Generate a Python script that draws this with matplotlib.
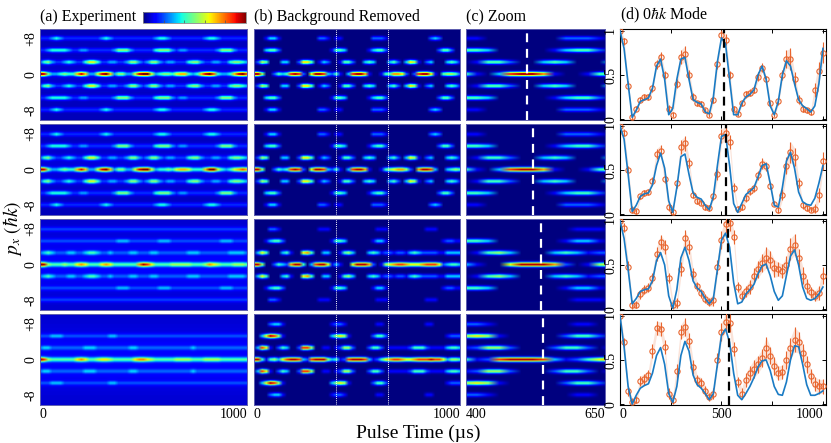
import numpy as np
import matplotlib
matplotlib.use('Agg')
import matplotlib.pyplot as plt
from matplotlib.cm import ScalarMappable
from matplotlib.colors import Normalize

plt.rcParams['font.family'] = ['Liberation Serif', 'DejaVu Serif']
plt.rcParams['mathtext.fontset'] = 'stix'

# ---------------- data ----------------
pulse_time = np.arange(0, 1001, 20)          # us, sample grid

# heatmap intensities (digits 0-9 = relative density), orders 0, ±1, ±2, ±3
exp_row1 = ["98422 34336 86225 89624 42258 99523 44356 63236 89732 23689 7",
            "13421 12321 13553 11221 12442 12442 12211 13442 11221 13443 2",
            "11233 33211 22111 11124 44211 11134 44212 21111 11124 44211 1",
            "11123 21111 11111 23211 11111 11123 32111 11111 23321 11111 1"]
exp_row2 = ["98422 34336 86225 89624 42258 99523 34356 65333 69953 23567 6",
            "13421 12321 13553 11221 12442 12442 12211 13442 11221 13443 2",
            "11233 33211 22111 11124 44211 11134 44212 21111 11124 44211 1",
            "11123 21111 11111 23211 11111 11123 32111 11111 23321 11111 1"]
exp_row3 = ["98433 34335 65333 56533 33336 87533 33444 44333 46543 33444 3",
            "12321 11221 12332 11211 11221 11221 11111 12221 11111 12222 1",
            "11111 11111 11111 11112 22111 11112 22111 11111 11112 22111 1",
            "11111 11111 11111 11111 11111 11111 11111 11111 11111 11111 1"]
exp_row4 = ["97433 33335 65334 55433 33356 65433 33344 44333 44443 33333 3",
            "12211 11111 12221 11111 11221 11111 11111 11211 11111 11111 1",
            "11122 21111 11111 11221 11111 11111 11111 11111 11111 11111 1",
            "00000 00000 00000 00000 00000 00000 00000 00000 00000 00000 0"]

bgr_row1 = ["99500 24348 98206 99832 41038 99710 01447 76202 89961 04554 2",
            "02540 00330 02664 01320 01442 00343 00034 20365 10230 00343 1",
            "00034 42000 00000 00001 44300 00013 44200 00000 00000 24420 0",
            "00013 31000 00000 02210 11000 00002 22100 00000 00023 20000 0"]
bgr_row2 = ["99500 24348 98206 99832 41038 99710 01456 77520 79983 00345 4",
            "02540 00330 02664 01320 01442 00343 00034 20365 10230 00343 1",
            "00034 42000 00000 00001 44300 00013 44200 00000 00000 24420 0",
            "00013 31000 00000 02210 11000 00002 22100 00000 00023 20000 0"]
bgr_row3 = ["99500 24327 99403 89961 31006 99972 01567 88766 67888 62344 3",
            "03640 00341 00674 00330 01453 00034 31221 22134 32222 11333 3",
            "00013 44200 00000 00001 44300 00001 33100 00000 00000 01221 1",
            "00002 21000 00000 01110 00000 00000 11100 00000 00111 00000 0"]
bgr_row4 = ["99414 53689 98328 99953 41289 99831 24678 87667 88898 86355 4",
            "03861 02430 02885 00110 12552 00024 42011 11124 44211 11344 3",
            "00369 85100 00000 00003 56510 00002 44200 00000 00000 00122 2",
            "00002 33100 00000 00001 22100 00000 11000 00000 00110 00000 0"]

exp_rows = [exp_row1, exp_row2, exp_row3, exp_row4]
bgr_rows = [bgr_row1, bgr_row2, bgr_row3, bgr_row4]
exp_background = [0.05, 0.05, 0.07, 0.07]
exp_cloud = [0.02, 0.03, 0.05, 0.06]

# 0 hbar k mode population: model curves
model1 = [1.00,0.80,0.40,0.02,0.10,0.20,0.22,0.24,0.35,0.60,
          0.68,0.45,0.05,0.12,0.45,0.68,0.70,0.45,0.22,0.19,
          0.17,0.08,0.06,0.25,0.65,0.92,0.85,0.45,0.05,0.05,
          0.18,0.25,0.28,0.33,0.50,0.60,0.45,0.15,0.05,0.20,
          0.50,0.66,0.60,0.40,0.22,0.15,0.12,0.08,0.15,0.40,0.80]
model2 = [1.00,0.85,0.45,0.03,0.10,0.20,0.23,0.24,0.33,0.55,
          0.69,0.52,0.15,0.02,0.30,0.65,0.68,0.45,0.24,0.19,
          0.17,0.10,0.05,0.20,0.55,0.88,0.90,0.55,0.12,0.02,
          0.12,0.22,0.26,0.30,0.42,0.55,0.57,0.35,0.10,0.08,
          0.30,0.60,0.70,0.52,0.25,0.14,0.11,0.10,0.18,0.35,0.55]
model3 = [1.00,0.80,0.45,0.06,0.12,0.20,0.22,0.23,0.32,0.55,
          0.64,0.50,0.15,0.01,0.22,0.58,0.70,0.55,0.32,0.24,
          0.20,0.12,0.06,0.12,0.45,0.78,0.86,0.70,0.30,0.06,
          0.08,0.17,0.22,0.28,0.40,0.49,0.51,0.38,0.20,0.10,
          0.15,0.38,0.60,0.67,0.50,0.25,0.12,0.10,0.12,0.17,0.25]
model4 = [1.00,0.65,0.20,0.00,0.10,0.18,0.21,0.23,0.35,0.55,
          0.64,0.45,0.12,0.02,0.20,0.55,0.71,0.60,0.33,0.22,
          0.18,0.12,0.05,0.12,0.45,0.78,0.85,0.70,0.35,0.10,
          0.05,0.12,0.20,0.30,0.42,0.49,0.50,0.38,0.20,0.11,
          0.10,0.25,0.50,0.66,0.65,0.45,0.22,0.10,0.10,0.12,0.15]

# measured populations
meas1 = [1.00,0.88,0.38,0.02,0.12,0.22,0.25,0.25,0.35,0.62,
         0.70,0.50,0.12,0.05,0.40,0.70,0.74,0.50,0.25,0.18,
         0.17,0.10,0.05,0.22,0.62,0.95,0.90,0.50,0.12,0.06,
         0.18,0.28,0.30,0.33,0.48,0.58,0.45,0.18,0.05,0.20,
         0.50,0.68,0.68,0.45,0.22,0.12,0.10,0.08,0.33,0.55,0.75]
meas2 = [1.00,0.92,0.50,0.05,0.03,0.20,0.24,0.25,0.38,0.68,
         0.72,0.40,0.08,0.02,0.35,0.76,0.80,0.58,0.22,0.15,
         0.13,0.08,0.07,0.20,0.45,0.88,0.92,0.82,0.30,0.06,
         0.08,0.18,0.26,0.29,0.44,0.57,0.54,0.32,0.12,0.05,
         0.22,0.55,0.70,0.65,0.35,0.10,0.07,0.05,0.06,0.22,0.60]
meas3 = [1.00,0.92,0.48,0.05,0.05,0.17,0.22,0.24,0.35,0.62,
         0.76,0.70,0.35,0.05,0.07,0.45,0.80,0.70,0.40,0.26,
         0.18,0.12,0.08,0.10,0.48,0.78,0.96,0.98,0.82,0.25,
         0.15,0.20,0.25,0.38,0.45,0.52,0.58,0.56,0.46,0.45,
         0.43,0.50,0.68,0.73,0.58,0.38,0.26,0.19,0.15,0.18,0.38]
meas4 = [1.00,0.70,0.15,0.02,0.05,0.26,0.28,0.33,0.60,0.86,
         0.85,0.65,0.12,0.05,0.37,0.82,0.87,0.72,0.42,0.27,
         0.24,0.15,0.08,0.12,0.50,0.82,0.93,0.92,0.62,0.25,
         0.12,0.27,0.35,0.40,0.45,0.52,0.64,0.55,0.43,0.35,
         0.36,0.50,0.63,0.73,0.70,0.58,0.45,0.32,0.23,0.20,0.20]

# error bars (hundredths)
err1 = [3,4,5,4,3,3,3,3,4,5, 6,5,4,3,5,8,9,6,4,3, 3,3,3,4,5,6,6,5,3,3,
        3,4,4,4,5,5,4,3,3,4, 6,10,12,8,5,4,3,3,8,10, 12]
err2 = [3,4,5,4,3,3,3,3,4,6, 6,5,4,3,5,8,8,6,4,3, 3,3,3,4,6,8,8,8,5,3,
        3,4,4,4,5,6,5,4,3,4, 6,10,12,10,6,4,3,3,5,8, 10]
err3 = [4,5,6,5,4,5,5,5,6,8, 8,8,6,5,6,8,10,8,6,5, 5,5,5,6,8,10,10,10,8,6,
        6,6,8,8,10,10,12,10,10,8, 8,10,12,12,10,10,8,6,6,8, 10]
err4 = [4,5,6,5,4,6,6,6,8,8, 8,8,6,5,8,8,10,8,8,6, 6,6,5,6,8,10,10,10,8,6,
        6,8,8,10,10,10,12,10,10,8, 8,10,12,14,12,10,10,8,8,8, 8]

models = [model1, model2, model3, model4]
measured = [meas1, meas2, meas3, meas4]
errors = [err1, err2, err3, err4]
pi_time = [510, 521, 534, 538]       # dashed marker per row
zoom_range = [400, 650]

titles = ['(a) Experiment', '(b) Background Removed', '(c) Zoom',
          r'(d) 0$\hbar k$ Mode']

# ---------------- helpers ----------------
N = len(pulse_time)


def fit_len(v):
    v = np.asarray(v, float)
    if len(v) < N:
        v = np.concatenate([v, np.full(N - len(v), v[-1])])
    return v[:N]


def parse(s):
    return fit_len([int(ch) for ch in s if ch.isdigit()]) / 9.0


YLIM = 10.2
yy = np.linspace(-YLIM, YLIM, 92)
SPACING = 8.0 / 3.0
SIG = 0.34


def build(strings, bg=0.0, cloud=0.0):
    img = np.full((len(yy), N), bg)
    for k in range(-3, 4):
        row = parse(strings[abs(k)])
        prof = np.exp(-0.5 * ((yy - k * SPACING) / SIG) ** 2)
        img += prof[:, None] * row[None, :]
    img += cloud * np.exp(-0.5 * (yy / 4.0) ** 2)[:, None]
    return np.clip(img, 0, 1)


W, H = 831, 443
fig = plt.figure(figsize=(W / 100, H / 100), dpi=100)


def ax_at(x0, x1, y0, y1):
    return fig.add_axes([x0 / W, 1 - y1 / H, (x1 - x0) / W, (y1 - y0) / H])


cols = [(40, 247), (254, 460), (466, 605), (620, 826)]
rows = [(29, 120), (124, 215), (219, 310), (314, 405)]
ORANGE = '#E8652E'
BLUE = '#1A7BC4'
SPINE = '#6060b0'
dt = pulse_time[1] - pulse_time[0]
extent = [pulse_time[0] - dt / 2, pulse_time[-1] + dt / 2, -YLIM, YLIM]

for r in range(4):
    img_a = build(exp_rows[r], exp_background[r], exp_cloud[r])
    img_b = build(bgr_rows[r])
    for c, img in enumerate([img_a, img_b, img_b]):
        ax = ax_at(*cols[c], *rows[r])
        ax.imshow(img, extent=extent, origin='lower', aspect='auto', cmap='jet',
                  vmin=0, vmax=1, interpolation='bilinear')
        ax.set_ylim(-YLIM, YLIM)
        if c < 2:
            ax.set_xlim(0, 1000)
            xt = [0, 1000]
        else:
            ax.set_xlim(*zoom_range)
            xt = list(zoom_range)
        for s in ax.spines.values():
            s.set_color(SPINE)
            s.set_linewidth(0.7)
        ax.tick_params(length=0, labelsize=10, pad=2)
        if c == 1:
            for z in zoom_range:
                ax.axvline(z, color='white', lw=0.7, ls=(0, (1, 1.2)))
        if c == 2:
            ax.axvline(pi_time[r], color='white', lw=1.6, ls=(0, (4, 3)))
        if c == 0:
            ax.set_yticks([8, 0, -8])
            ax.set_yticklabels(['+8', '0', '-8'], rotation=90, va='center')
        else:
            ax.set_yticks([])
        if r == 3:
            ax.set_xticks(xt)
            ax.set_xticklabels([str(v) for v in xt])
            labs = ax.get_xticklabels()
            labs[0].set_ha('left')
            labs[1].set_ha('right')
        else:
            ax.set_xticks([])
        if r == 0:
            ax.text(0, 1.04, titles[c], transform=ax.transAxes, fontsize=11.5,
                    ha='left', va='bottom')

    # (d) panel
    ax = ax_at(*cols[3], *rows[r])
    m = fit_len(measured[r])
    e = fit_len(errors[r]) / 100.0
    ax.fill_between(pulse_time, m - e, m + e, color=ORANGE, alpha=0.18, lw=0)
    ax.errorbar(pulse_time, m, yerr=e, fmt='o', ms=3.8, mfc='none', mec=ORANGE,
                mew=0.8, ecolor=ORANGE, elinewidth=0.8, capsize=0, zorder=3)
    ax.plot(pulse_time, fit_len(models[r]), color=BLUE, lw=1.2, zorder=4)
    ax.axvline(pi_time[r], color='black', lw=1.6, ls=(0, (4, 2.5)), zorder=5)
    ax.set_xlim(0, 1015)
    ax.set_ylim(-0.01, 1.02)
    ax.set_xticks([0, 250, 500, 750, 1000])
    ax.set_yticks([0, 0.5, 1])
    ax.set_yticklabels(['0', '0.5', '1'], rotation=90, va='center')
    ax.tick_params(direction='in', length=3, width=0.7, top=True, right=True,
                   labelsize=10, pad=2)
    for s in ax.spines.values():
        s.set_linewidth(0.8)
    if r == 3:
        ax.set_xticklabels(['0', '', '500', '', '1000'])
        labs = ax.get_xticklabels()
        labs[0].set_ha('left')
        labs[4].set_ha('right')
    else:
        ax.set_xticklabels([])
    if r == 0:
        ax.text(0, 1.04, titles[3], transform=ax.transAxes, fontsize=11.5,
                ha='left', va='bottom')

# colorbar next to title (a)
cax = ax_at(143, 246, 12, 23)
cb = fig.colorbar(ScalarMappable(norm=Normalize(0, 1), cmap='jet'), cax=cax,
                  orientation='horizontal')
cb.set_ticks([0.2, 0.4, 0.6, 0.8])
cax.tick_params(length=2, direction='in', labelbottom=False, width=0.5,
                color='#555555')
cb.outline.set_edgecolor('#888888')
cb.outline.set_linewidth(0.6)

fig.text(418 / W, 1 - 433 / H, 'Pulse Time (µs)', ha='center', va='center',
         fontsize=14)
fig.text(12 / W, 1 - 228 / H, r'$p_x\ (\hbar k)$', ha='center', va='center',
         rotation=90, fontsize=14)

fig.savefig('out.png', dpi=100)
